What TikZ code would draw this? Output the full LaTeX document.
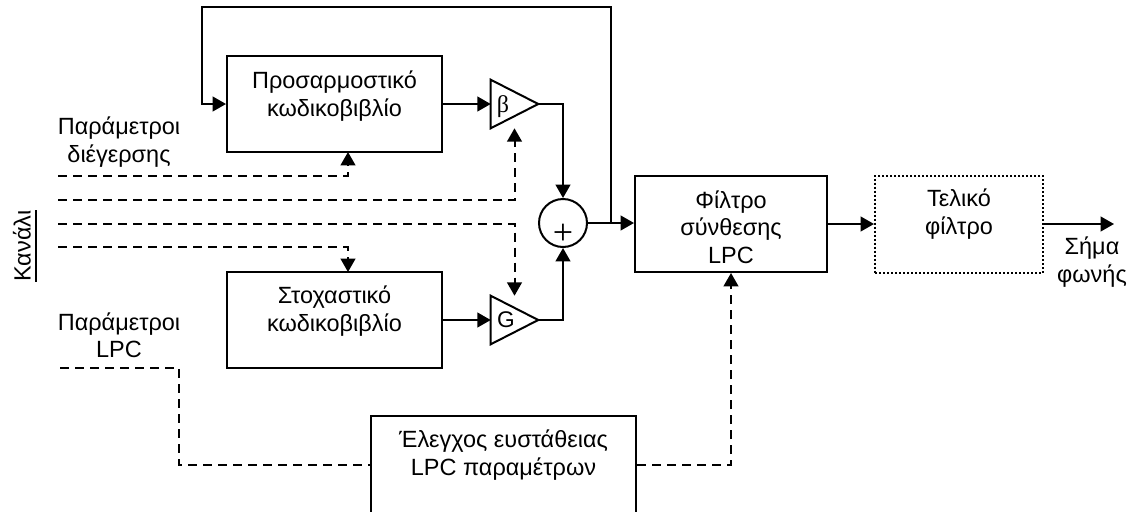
\documentclass[tikz,border=0pt]{standalone}
\usepackage{fontspec}
\setmainfont{Liberation Sans}
\newfontfamily\serifg{Liberation Serif}
\usetikzlibrary{arrows.meta}
\begin{document}
\begin{tikzpicture}[x=0.75pt,y=-0.75pt,
  txt/.style={font=\fontsize{17.6}{20.5}\selectfont,align=center,inner sep=0},
  ln/.style={line width=1.5pt},
  dsh/.style={line width=1.5pt,dash pattern=on 6.75pt off 4.5pt},
  arr/.style={-{Triangle[length=10pt,width=11pt]}},
  bx/.style 2 args={minimum width=#1*0.75pt,minimum height=#2*0.75pt,inner sep=0},
  blk/.style={draw,line width=1.5pt},
  dotblk/.style={draw,line width=1.5pt,dash pattern=on 1.5pt off 1.5pt},
]
\useasboundingbox[fill=white] (0,0) rectangle (1136,511);

% blocks
\node[blk,bx={215}{96}] (adapt) at (334.5,104) {};
\node[txt] at (334.5,96) {Προσαρμοστικό\\κωδικοβιβλίο};
\node[blk,bx={215}{96}] (stoch) at (334.5,320) {};
\node[txt] at (334.5,311) {Στοχαστικό\\κωδικοβιβλίο};
\node[blk,bx={192}{96}] (synth) at (731,224) {};
\node[txt] at (731,227) {Φίλτρο\\σύνθεσης\\LPC};
\node[dotblk,bx={168}{97}] (final) at (959,224) {};
\node[txt] at (959,214) {Τελικό\\φίλτρο};
\node[blk,bx={265}{98}] (stab) at (503.5,465) {};
\node[txt] at (503.5,455) {Έλεγχος ευστάθειας\\LPC παραμέτρων};

% gains
\node[bx={47}{48}] (beta) at (514.5,104) {};
\draw[ln,line join=miter] (beta.north west) -- (beta.east) -- (beta.south west) -- cycle;
\node[font=\serifg\fontsize{18}{20}\selectfont,inner sep=0] at (503,107) {β};
\node[bx={47}{48}] (G) at (514.5,320) {};
\draw[ln,line join=miter] (G.north west) -- (G.east) -- (G.south west) -- cycle;
\node[font=\fontsize{17}{20}\selectfont,inner sep=0] at (506,320) {G};

% summer
\node[circle,draw,line width=1.5pt,minimum size=48*0.75pt,inner sep=0] (sum) at (563,223) {};
\node[font=\serifg\fontsize{27}{27}\selectfont,inner sep=0] at (563,234) {+};

% labels
\node[txt] at (119,142) {Παράμετροι\\διέγερσης};
\node[txt] at (119,335) {Παράμετροι\\LPC};
\node[txt] at (1092,262) {Σήμα\\φωνής};
\node[txt,rotate=90] (kan) at (22,246) {Κανάλι};
\draw[ln] ([xshift=3.5pt]kan.south west) -- ([xshift=3.5pt]kan.south east);

% solid connectors
\draw[ln,arr] (adapt.east) -- (beta.west);
\draw[ln,arr] (beta.east) -| (sum.north);
\draw[ln,arr] (stoch.east) -- (G.west);
\draw[ln,arr] (G.east) -| (sum.south);
\draw[ln,arr] (sum.east) -- (sum.east -| synth.west);
\coordinate (br) at (611,223);
\coordinate (fb1) at (611,7);
\coordinate (fb2) at (202,7);
\draw[ln,arr] (br) -- (fb1) -- (fb2) |- (adapt.west);
\draw[ln,arr] (synth.east) -- (final.west);
\coordinate (out) at (1114,224);
\draw[ln,arr] (final.east) -- (out);

% dashed connectors
\coordinate (e1) at (58,176); \coordinate (e1t) at (348,152);
\draw[dsh,arr] (e1) -| (e1t);
\coordinate (e2) at (58,200);
\draw[dsh,arr] (e2) -| (beta.south);
\coordinate (e3) at (58,224);
\draw[dsh,arr] (e3) -| (G.north);
\coordinate (e4) at (58,247); \coordinate (e4t) at (348,272);
\draw[dsh,arr] (e4) -| (e4t);
\coordinate (l0) at (60,368); \coordinate (l1) at (179,465);
\draw[dsh] (l0) -| (l1) -- (stab.west);
\draw[dsh,arr] (stab.east) -| (synth.south);
\end{tikzpicture}
\end{document}
